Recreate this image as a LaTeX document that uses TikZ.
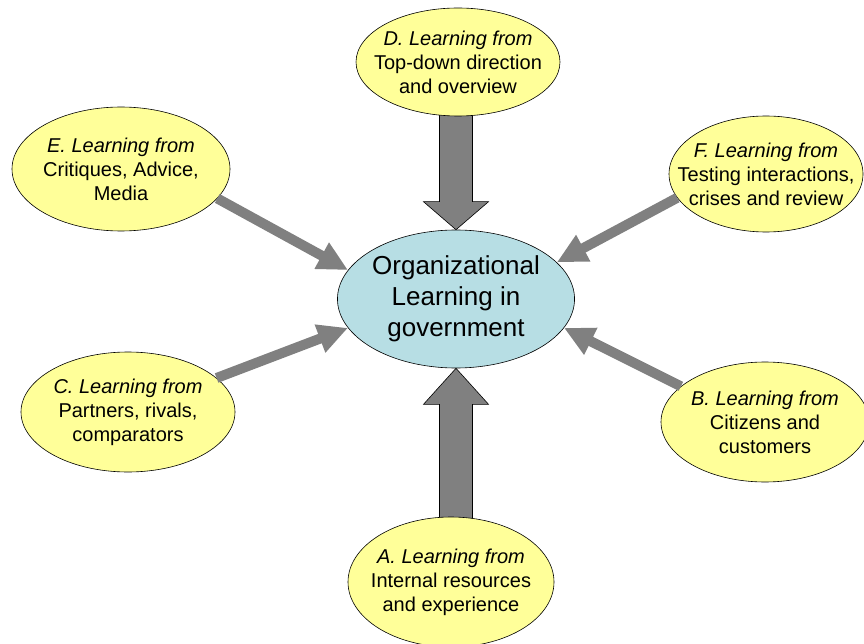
\documentclass[tikz,border=0pt]{standalone}
\usepackage{fontspec}
\setmainfont{Liberation Sans}
\usepackage{tikz}
\usetikzlibrary{arrows.meta,positioning,calc,shapes.geometric,backgrounds}
\definecolor{leafyellow}{RGB}{255,255,153}
\definecolor{hubblue}{RGB}{183,222,228}
\definecolor{arrowgray}{RGB}{128,128,128}
\tikzset{
  leaf/.style={ellipse, draw=black, line width=0.6pt, fill=leafyellow, inner sep=0pt},
  hub/.style={ellipse, draw=black, line width=0.6pt, fill=hubblue, inner sep=0pt,
    align=center, font=\fontsize{26}{31}\selectfont},
  leaftext/.style={align=center, inner sep=0pt, font=\fontsize{20}{24}\selectfont},
  thinarrow/.style={draw=arrowgray, line width=10pt, -{Triangle[length=30pt, width=28pt]}},
  bigarrow/.style={draw=black, line width=0.6pt, fill=arrowgray, line join=miter},
}

\begin{document}
\begin{tikzpicture}[x=1pt,y=-1pt]
  \useasboundingbox (0,0) rectangle (864,644);

  \node[hub, minimum width=230pt, minimum height=138pt] (org) at (456,299)
    {Organizational\\Learning in\\government};

  \node[leaf, minimum width=204pt, minimum height=108pt,
    label={[leaftext]center:{\textit{D. Learning from}\\Top-down direction\\and overview}}]
    (d) at (458,62) {};
  \node[leaf, minimum width=218pt, minimum height=124pt,
    label={[leaftext]center:{\textit{E. Learning from}\\Critiques, Advice,\\Media}}]
    (e) at (121,169) {};
  \node[leaf, minimum width=194pt, minimum height=116pt,
    label={[leaftext]center:{\textit{F. Learning from}\\Testing interactions,\\crises and review}}]
    (f) at (766,174) {};
  \node[leaf, minimum width=214pt, minimum height=120pt,
    label={[leaftext]center:{\textit{C. Learning from}\\Partners, rivals,\\comparators}}]
    (c) at (128,412) {};
  \node[leaf, minimum width=208pt, minimum height=120pt,
    label={[leaftext]center:{\textit{B. Learning from}\\Citizens and\\customers}}]
    (b) at (765,422) {};
  \node[leaf, minimum width=206pt, minimum height=130pt,
    label={[leaftext]center:{\textit{A. Learning from}\\Internal resources\\and experience}}]
    (a) at (451,582) {};

  % block arrows, behind the ellipses
  \begin{scope}[on background layer]
    \draw[bigarrow] (org.north) -- ++(-32.5,-28) -- ++(16,0)
      -- ($(org.north |- d.south)+(-16.5,-3)$) -- ++(33,0)
      -- ($(org.north)+(16.5,-28)$) -- ++(16,0) -- cycle;
    \draw[bigarrow] (org.south) -- ++(-32.5,36) -- ++(16,0)
      -- ($(org.south |- a.north)+(-16.5,3)$) -- ++(33,0)
      -- ($(org.south)+(16.5,36)$) -- ++(16,0) -- cycle;
  \end{scope}

  % thin arrows
  \draw[thinarrow] (e.-17) -- (org.165);
  \draw[thinarrow] (f.-165) -- (org.20);
  \draw[thinarrow] (c.21) -- (org.-165);
  \draw[thinarrow] (b.157) -- (org.-15);
\end{tikzpicture}
\end{document}
